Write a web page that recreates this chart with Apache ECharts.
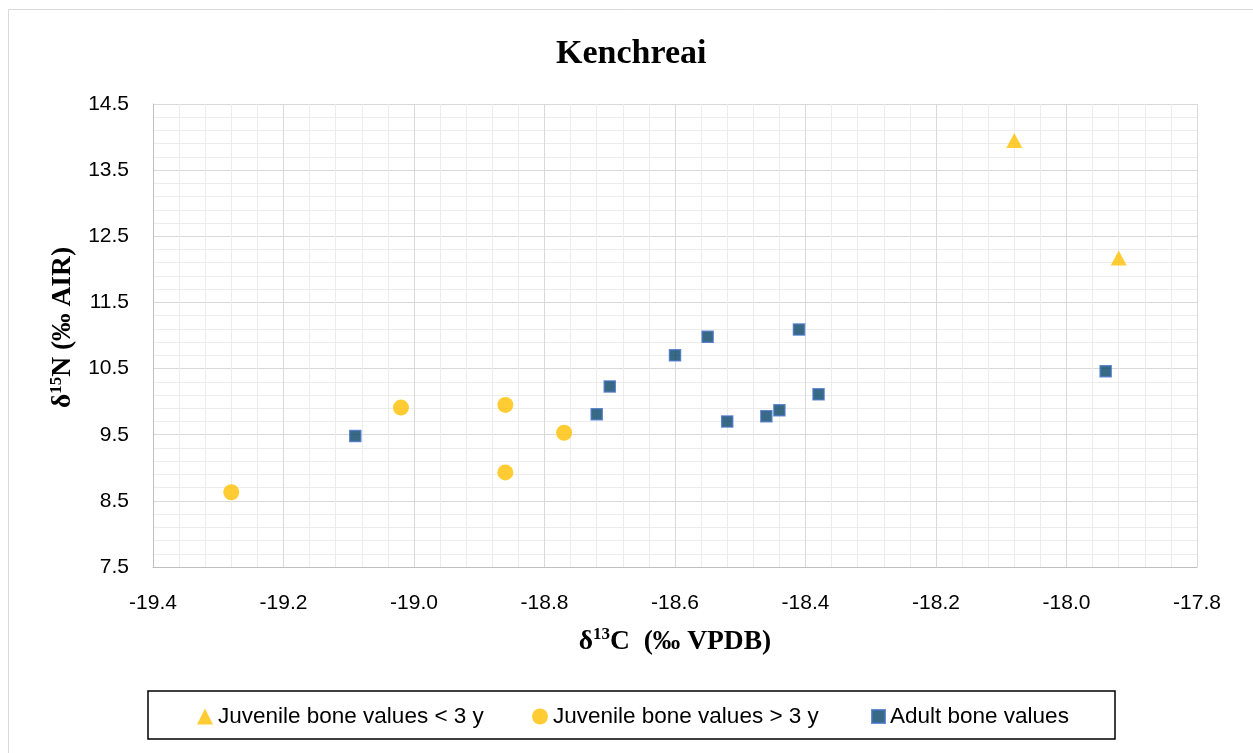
<!DOCTYPE html>
<html>
<head>
<meta charset="utf-8">
<script src="https://cdn.jsdelivr.net/npm/echarts@6/dist/echarts.min.js"></script>
<style>
html,body{margin:0;padding:0;background:#fff;}
#chart{width:1253px;height:753px;}
</style>
</head>
<body>
<div id="chart"></div>
<script>
// Data (δ13C, δ15N)
const juvenileUnder3 = [[-18.08, 13.95], [-17.92, 12.17]];
const juvenileOver3 = [[-19.28, 8.63], [-19.02, 9.91], [-18.86, 9.95], [-18.86, 8.93], [-18.77, 9.53]];
const adults = [[-19.09, 9.48], [-18.72, 9.81], [-18.70, 10.23], [-18.60, 10.70], [-18.55, 10.98],
                [-18.52, 9.70], [-18.46, 9.78], [-18.44, 9.87], [-18.41, 11.09], [-18.38, 10.11],
                [-17.94, 10.46]];
const seriesNames = ['Juvenile bone values < 3 y', 'Juvenile bone values > 3 y', 'Adult bone values'];
const xTicks = {min: -19.4, max: -17.8, step: 0.2};
const yTicks = {min: 7.5, max: 14.5, step: 1};

const chart = echarts.init(document.getElementById('chart'), null, {renderer: 'canvas'});
const sans = 'Liberation Sans';
const serif = 'Liberation Serif';
const richTitle = {
  a: {fontFamily: serif, fontWeight: 'bold', fontSize: 27.5, lineHeight: 31, color: '#000'},
  s: {fontFamily: serif, fontWeight: 'bold', fontSize: 17, lineHeight: 21, verticalAlign: 'top', color: '#000'}
};
const legendText = {fontFamily: sans, fontSize: 22.5, color: '#000'};
const option = {
  animation: false,
  backgroundColor: '#fff',
  title: {
    text: 'Kenchreai',
    left: 551,
    top: 32,
    textStyle: {fontFamily: serif, fontWeight: 'bold', fontSize: 34, color: '#000'}
  },
  graphic: [
    {type: 'rect', z: -10, silent: true, shape: {x: 8.5, y: 9.5, width: 1300, height: 800},
     style: {fill: 'none', stroke: '#d9d9d9', lineWidth: 1}},
    {type: 'rect', z: -5, silent: true, shape: {x: 148, y: 691, width: 967, height: 48},
     style: {fill: '#fff', stroke: '#000', lineWidth: 1.5}}
  ],
  grid: {left: 153, right: 56, top: 104, bottom: 186, containLabel: false},
  legend: [
    {data: [seriesNames[0]], left: 197, top: 705, padding: 0, itemWidth: 16, itemHeight: 16, textStyle: legendText},
    {data: [seriesNames[1]], left: 532, top: 705, padding: 0, itemWidth: 16, itemHeight: 16, textStyle: legendText},
    {data: [seriesNames[2]], left: 871, top: 705, padding: 0, itemWidth: 13, itemHeight: 13, textStyle: legendText}
  ],
  xAxis: {
    type: 'value',
    min: xTicks.min, max: xTicks.max, interval: xTicks.step,
    name: '{a|δ}{s|13}{a|C  (‰ VPDB)}',
    nameLocation: 'middle',
    nameGap: 59,
    nameTextStyle: {rich: richTitle},
    axisLine: {show: true, lineStyle: {color: '#bfbfbf', width: 1}},
    axisTick: {show: false},
    axisLabel: {margin: 26, fontFamily: sans, fontSize: 21, color: '#000',
      formatter: v => v.toFixed(1)},
    splitLine: {show: true, lineStyle: {color: '#d9d9d9', width: 1}},
    minorTick: {show: false, splitNumber: 5},
    minorSplitLine: {show: true, lineStyle: {color: '#ececec', width: 1}}
  },
  yAxis: {
    type: 'value',
    min: yTicks.min, max: yTicks.max, interval: yTicks.step,
    name: '{a|δ}{s|15}{a|N (‰ AIR)}',
    nameLocation: 'middle',
    nameRotate: 90,
    nameGap: 74,
    nameTextStyle: {rich: richTitle, padding: [0, 0, 0, 16]},
    axisLine: {show: true, lineStyle: {color: '#bfbfbf', width: 1}},
    axisTick: {show: false},
    axisLabel: {margin: 24, fontFamily: sans, fontSize: 21, color: '#000',
      formatter: v => v.toFixed(1)},
    splitLine: {show: true, lineStyle: {color: '#d9d9d9', width: 1}},
    minorTick: {show: false, splitNumber: 5},
    minorSplitLine: {show: true, lineStyle: {color: '#ececec', width: 1}}
  },
  series: [
    {name: seriesNames[0], type: 'scatter', data: juvenileUnder3, symbol: 'triangle', symbolSize: [16, 15],
     itemStyle: {color: '#ffc000'}},
    {name: seriesNames[1], type: 'scatter', data: juvenileOver3, symbol: 'circle', symbolSize: 16,
     itemStyle: {color: '#ffc000'}},
    {name: seriesNames[2], type: 'scatter', data: adults, symbol: 'rect', symbolSize: 11,
     itemStyle: {color: '#064466', borderColor: '#4472c4', borderWidth: 1.5}}
  ]
};
chart.setOption(option);
</script>
</body>
</html>
